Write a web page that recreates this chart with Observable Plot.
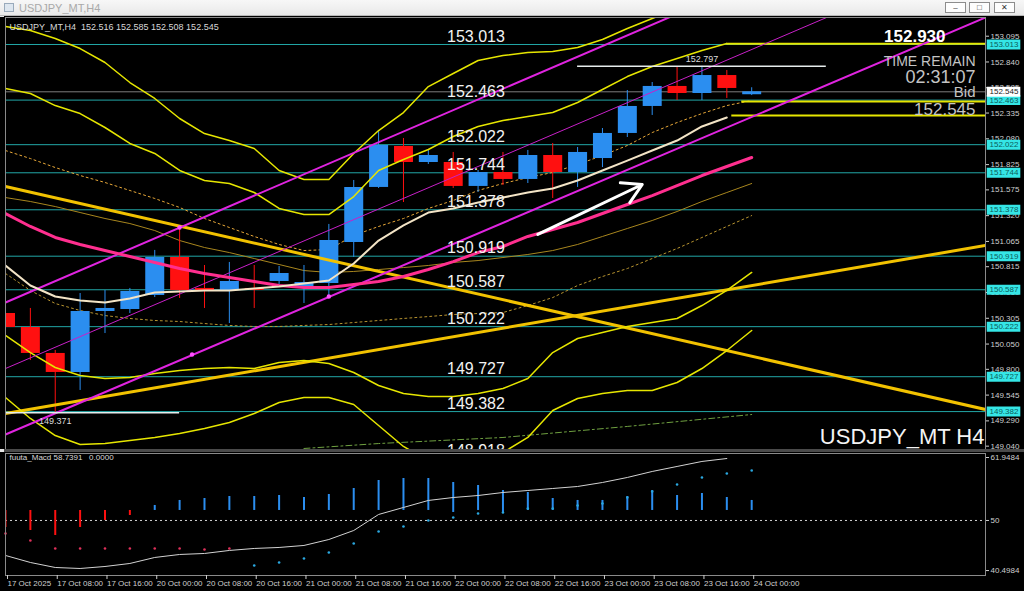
<!DOCTYPE html>
<html><head><meta charset="utf-8">
<script src="https://cdn.jsdelivr.net/npm/d3@7"></script>
<script src="https://cdn.jsdelivr.net/npm/@observablehq/plot@0.6"></script>
<style>
html,body{margin:0;padding:0;background:#000;width:1024px;height:591px;overflow:hidden;font-family:"Liberation Sans",Arial,sans-serif;}
#titlebar{position:absolute;left:0;top:0;width:1024px;height:16px;background:linear-gradient(#f7f7f7,#e9e9e9);border-bottom:1px solid #b8b8b8;box-sizing:border-box;}
#titlebar .icon{position:absolute;left:4px;top:3px;width:10px;height:9px;border:1px solid #9ab;box-sizing:border-box;background:#dde6ef;}
#titlebar .ttl{position:absolute;left:19px;top:2px;font-size:11px;color:#a9a9a9;}
#titlebar .btn{position:absolute;top:2px;width:21px;height:11px;border:1px solid #8c8c8c;background:#fdfdfd;box-sizing:border-box;font-size:8px;line-height:9px;text-align:center;color:#333;}
#leftstrip{position:absolute;left:0;top:16px;width:4px;height:575px;background:#e6e6e6;}
#main{position:absolute;left:0;top:17px;}
#sep{position:absolute;left:4px;top:449px;width:1020px;height:3px;background:#4a4a4a;}
#macd{position:absolute;left:0;top:452px;}
</style></head><body>
<div id="titlebar"><span class="icon"></span><span class="ttl">USDJPY_MT,H4</span>
<div class="btn" style="left:945px">&#8211;</div><div class="btn" style="left:969px">&#9633;</div><div class="btn" style="left:994px">&#10005;</div></div>
<div id="leftstrip"></div>
<div id="main"></div>
<div id="sep"></div>
<div id="macd"></div>
<script>
// ---------------- data ----------------
const xDomain = [0, 39.4];              // visible bar window (bar index)
const priceDomain = [149.007, 153.280];
const macdDomain = [39.56, 62.71];

const timeLabels = ["17 Oct 2025","17 Oct 08:00","17 Oct 16:00","20 Oct 00:00","20 Oct 08:00","20 Oct 16:00",
  "21 Oct 00:00","21 Oct 08:00","21 Oct 16:00","22 Oct 00:00","22 Oct 08:00","22 Oct 16:00",
  "23 Oct 00:00","23 Oct 08:00","23 Oct 16:00","24 Oct 00:00"];

const open  = [150.352,150.214,149.957,149.769,150.372,150.392,150.530,150.906,150.600,150.580,150.600,150.669,150.619,150.649,151.055,151.599,152.004,151.846,151.846,151.609,151.747,151.678,151.915,151.747,151.885,152.133,152.400,152.598,152.528,152.706,152.516];
const high  = [150.431,150.402,149.987,150.550,150.580,150.600,150.976,151.203,150.827,150.857,150.827,150.817,150.827,151.233,151.668,152.162,152.083,151.965,151.945,151.767,151.945,151.965,152.034,151.994,152.182,152.558,152.637,152.786,152.797,152.756,152.585];
const low   = [150.085,149.887,149.371,149.591,150.154,150.352,150.510,150.501,150.402,150.253,150.402,150.639,150.451,150.530,150.906,151.589,151.450,151.826,151.589,151.549,151.618,151.638,151.490,151.599,151.796,152.093,152.311,152.459,152.459,152.479,152.508];
const close = [150.214,149.957,149.769,150.372,150.402,150.570,150.906,150.580,150.570,150.669,150.580,150.748,150.659,151.074,151.599,152.014,151.846,151.915,151.609,151.747,151.678,151.915,151.747,151.945,152.133,152.400,152.598,152.528,152.706,152.578,152.545];

const bandOuterUpper = [153.191,153.151,153.072,152.973,152.835,152.637,152.479,152.281,152.132,152.063,151.984,151.767,151.677,151.677,151.935,152.162,152.340,152.597,152.726,152.855,152.904,152.934,152.944,152.983,153.062,153.171,153.270,153.369];
const bandInnerUpper = [152.578,152.528,152.409,152.330,152.192,152.034,151.935,151.767,151.668,151.638,151.549,151.391,151.331,151.331,151.509,151.767,151.875,151.974,152.103,152.202,152.261,152.301,152.340,152.439,152.568,152.696,152.795,152.874,152.953,153.023];
const bandInnerLower = [150.135,149.966,149.818,149.739,149.709,149.719,149.759,149.788,149.808,149.818,149.808,149.867,149.887,149.858,149.769,149.640,149.561,149.531,149.531,149.561,149.610,149.709,149.966,150.105,150.164,150.224,150.263,150.303,150.431,150.580,150.758];
const bandOuterLower = [149.521,149.314,149.145,149.056,149.066,149.096,149.126,149.165,149.215,149.274,149.363,149.472,149.521,149.521,149.452,149.244,149.037,148.898,148.839,148.878,148.977,149.126,149.393,149.511,149.561,149.591,149.591,149.670,149.808,149.986,150.184];
const maFast   = [150.827,150.629,150.520,150.481,150.461,150.500,150.560,150.570,150.580,150.580,150.599,150.619,150.649,150.679,150.847,151.074,151.223,151.351,151.391,151.450,151.499,151.549,151.588,151.668,151.767,151.865,151.964,152.063,152.202,152.291];
const maPink   = [151.341,151.213,151.104,151.035,150.975,150.916,150.857,150.797,150.748,150.708,150.669,150.629,150.609,150.609,150.639,150.669,150.718,150.787,150.866,150.955,151.015,151.114,151.183,151.252,151.341,151.430,151.519,151.618,151.717,151.806,151.895];
const maDotUpper = [151.964,151.885,151.796,151.717,151.648,151.569,151.490,151.401,151.292,151.203,151.114,151.035,150.975,150.985,151.124,151.213,151.292,151.391,151.470,151.569,151.638,151.697,151.747,151.826,151.915,152.014,152.142,152.241,152.330,152.409,152.459];
const maDotLower = [150.748,150.580,150.451,150.382,150.332,150.303,150.283,150.273,150.253,150.234,150.224,150.224,150.234,150.243,150.263,150.283,150.303,150.322,150.342,150.352,150.362,150.431,150.510,150.629,150.718,150.797,150.896,150.995,151.104,151.213,151.321];
const maOlive  = [151.499,151.460,151.410,151.351,151.292,151.242,151.173,151.074,151.005,150.955,150.896,150.837,150.777,150.758,150.768,150.787,150.807,150.827,150.857,150.876,150.906,150.936,150.975,151.035,151.114,151.193,151.272,151.361,151.460,151.549,151.638];
const maLongIdx = [12, 15, 20, 25, 30];
const maLong    = [149.017,149.066,149.126,149.235,149.353];

const projections = [{from: 29, price: 153.020}, {from: 29.6, price: 152.449}, {from: 29.2, price: 152.311}];

const levels = [153.013, 152.463, 152.022, 151.744, 151.378, 150.919, 150.587, 150.222, 149.727, 149.382];
const hiddenLevel = 148.918;
const levelLabelAt = 17.75;
const bid = 152.545;
const priceTicks = [153.095,152.840,152.585,152.335,152.080,151.825,151.575,151.320,151.065,150.815,150.560,150.305,150.050,149.800,149.545,149.290,149.040];
const highLine = {from: 23, to: 33, price: 152.797, label: "152.797", at: 28};
const lowLine  = {from: 0, to: 7, price: 149.371, label: "149.371", at: 2};

const trendDown = [{i: 0, p: 151.608}, {i: 39.4, p: 149.403}];
const trendUp   = [{i: 0, p: 149.363}, {i: 39.4, p: 151.025}];
const chanUpper = [{i: 0, p: 150.461}, {i: 39.4, p: 154.625}];
const chanLower = [{i: 0, p: 149.155}, {i: 39.4, p: 153.280}];
const chanMid   = [{i: 0, p: 149.808}, {i: 39.4, p: 153.952}];
const pivots = [{i: 7, p: 151.203}, {i: 7.5, p: 149.947}, {i: 13, p: 150.520}];
const arrowAnno = [{i1: 21.4, p1: 151.134, i2: 25.6, p2: 151.628}];

// MACD panel
const macdLo = [51.90,51.90,51.90,51.90,51.90,51.90,51.90,51.90,51.90,51.90,51.90,51.90,51.90,51.90,51.90,51.90,51.90,51.90,51.52,51.90,51.52,51.90,51.90,51.90,51.90,51.90,51.90,51.90,51.90,51.90,51.90];
const macdHi = [48.67,48.10,47.15,48.67,50.00,50.95,52.85,53.80,54.17,54.55,54.55,54.74,54.36,54.93,56.07,57.59,57.97,57.97,57.21,56.64,55.69,55.31,54.17,53.80,53.80,54.55,55.69,54.74,55.12,54.36,53.80];
const macdDots = [47.53,46.20,44.69,44.69,44.69,44.69,44.69,44.69,44.50,44.69,41.46,42.03,42.79,43.93,45.64,47.91,48.86,50.00,50.57,51.33,51.52,52.28,52.28,52.85,53.23,54.36,55.50,56.83,58.16,58.92,59.49];
const macdSignal = [43.36,42.03,41.08,40.89,41.27,41.84,42.98,43.55,43.74,44.31,44.69,44.88,45.26,46.39,48.10,51.14,52.47,53.80,54.36,54.74,55.31,55.69,56.07,56.45,57.21,58.16,59.30,60.25,61.20,61.76];
const macdTicks = [61.9484, 50, 40.4984];

// ---------------- styling ----------------
const BLUE = "#2b8ef0", RED = "#ff1010", TEAL = "#22a7a7", CYANBOX = "#35e6e6", YEL = "#e6e600", GOLD = "#f2c200", MAG = "#e024e0";
const FONT = "'Liberation Sans', Arial, sans-serif";
const pts = arr => arr.map((v, i) => ({i, v}));
const candles = open.map((o, i) => ({i, open: o, high: high[i], low: low[i], close: close[i]}));
const cc = d => d.close >= d.open ? BLUE : RED;
const xMax = xDomain[1];
const corner = (txt, anchor, dx, dy, size, fill, extra = {}) =>
  Plot.text([txt], {frameAnchor: anchor, dx, dy, lineAnchor: "middle",
    textAnchor: anchor.endsWith("right") ? "end" : "start", fill, fontSize: size, ...extra});

const main = Plot.plot({
  width: 1024, height: 432,
  marginLeft: 5, marginRight: 39, marginTop: 0, marginBottom: 0,
  x: {domain: xDomain, axis: null},
  y: {domain: priceDomain},
  color: {type: "identity"},
  style: {background: "#000", color: "#c8c8c8", fontFamily: FONT, overflow: "visible"},
  marks: [
    Plot.ruleY(levels, {y: d => d, stroke: TEAL, strokeWidth: 1}),
    Plot.ruleY([bid], {y: d => d, stroke: "#7c7c7c", strokeWidth: 1}),
    Plot.line(maLongIdx.map((k, j) => ({i: k, v: maLong[j]})), {x: "i", y: "v", stroke: "#6fa040", strokeWidth: 1, strokeDasharray: "6,3,2,3", clip: true}),
    Plot.line(pts(maDotLower), {x: "i", y: "v", stroke: "#b89430", strokeWidth: 1, strokeDasharray: "2,3", clip: true}),
    Plot.line(pts(maOlive), {x: "i", y: "v", stroke: "#a8861e", strokeWidth: 1, clip: true}),
    Plot.line(pts(maDotUpper), {x: "i", y: "v", stroke: "#e8a838", strokeWidth: 1, strokeDasharray: "2,3", clip: true}),
    Plot.ruleX(candles, {x: "i", y1: "low", y2: "high", stroke: cc, strokeWidth: 1, clip: true}),
    Plot.ruleX(candles, {x: "i", y1: "open", y2: "close", stroke: cc, strokeWidth: 19, clip: true}),
    Plot.line(trendDown, {x: "i", y: "p", stroke: GOLD, strokeWidth: 3, clip: true}),
    Plot.line(trendUp, {x: "i", y: "p", stroke: GOLD, strokeWidth: 3, clip: true}),
    Plot.line(pts(bandOuterUpper), {x: "i", y: "v", stroke: YEL, strokeWidth: 1.5, clip: true}),
    Plot.line(pts(bandInnerUpper), {x: "i", y: "v", stroke: YEL, strokeWidth: 1.5, clip: true}),
    Plot.line(pts(bandInnerLower), {x: "i", y: "v", stroke: YEL, strokeWidth: 1.5, clip: true}),
    Plot.line(pts(bandOuterLower), {x: "i", y: "v", stroke: YEL, strokeWidth: 1.5, clip: true}),
    Plot.ruleY(projections, {y: "price", x1: "from", x2: () => xMax, stroke: YEL, strokeWidth: 2, clip: true}),
    Plot.line(chanUpper, {x: "i", y: "p", stroke: MAG, strokeWidth: 2, clip: true}),
    Plot.line(chanLower, {x: "i", y: "p", stroke: MAG, strokeWidth: 2, clip: true}),
    Plot.line(chanMid, {x: "i", y: "p", stroke: "#c820c8", strokeWidth: 1, clip: true}),
    Plot.line(pts(maPink), {x: "i", y: "v", stroke: "#ff2f8f", strokeWidth: 3, clip: true}),
    Plot.line(pts(maFast), {x: "i", y: "v", stroke: "#f3e4c6", strokeWidth: 2, clip: true}),
    Plot.dot(pivots, {x: "i", y: "p", r: 2.2, fill: "#ff50ff"}),
    Plot.ruleY([highLine, lowLine], {y: "price", x1: "from", x2: "to", stroke: "#e6ecec", strokeWidth: 1.5, clip: true}),
    Plot.text([highLine], {x: "at", y: "price", dy: -7, text: "label", fill: "#dcdcdc", fontSize: 9}),
    Plot.text([lowLine], {x: "at", y: "price", dy: 8, text: "label", fill: "#dcdcdc", fontSize: 9}),
    Plot.arrow(arrowAnno, {x1: "i1", y1: "p1", x2: "i2", y2: "p2", stroke: "#ffffff", strokeWidth: 3, headLength: 11}),
    Plot.text(levels.map(p => ({i: levelLabelAt, p})), {x: "i", y: "p", text: d => d.p.toFixed(3), dy: -8, textAnchor: "start", fill: "#f2f2f2", fontSize: 16}),
    Plot.text([{i: levelLabelAt, p: hiddenLevel}], {x: "i", y: "p", text: d => d.p.toFixed(3), dy: -8, textAnchor: "start", fill: "#f2f2f2", fontSize: 16}),
    Plot.frame({stroke: "#8a8a8a"}),
    Plot.axisY({anchor: "right", ticks: priceTicks, tickFormat: d => d.toFixed(3), tickSize: 3, tickPadding: 2, fontSize: 8, color: "#cfcfcf", label: null}),
    Plot.ruleY(levels.map(p => ({p})), {y: "p", x1: () => xMax + 0.07, x2: () => xMax + 1.42, stroke: CYANBOX, strokeWidth: 10}),
    Plot.text(levels, {x: () => xMax, y: d => d, text: d => d.toFixed(3), dx: 4, textAnchor: "start", fill: "#0b5c5c", fontSize: 8}),
    Plot.ruleY([{p: bid}], {y: "p", x1: () => xMax + 0.07, x2: () => xMax + 1.42, stroke: "#ffffff", strokeWidth: 10}),
    Plot.text([bid], {x: () => xMax, y: d => d, text: d => d.toFixed(3), dx: 4, textAnchor: "start", fill: "#222", fontSize: 8}),
    corner("USDJPY_MT,H4  152.516 152.585 152.508 152.545", "top-left", 4, 10, 9, "#d8d8d8"),
    corner("152.930", "top-right", -40, 19, 17, "#ffffff", {fontWeight: "bold"}),
    corner("TIME REMAIN", "top-right", -10, 44, 14, "#c4c4c4"),
    corner("02:31:07", "top-right", -10, 60, 18, "#c4c4c4"),
    corner("Bid", "top-right", -10, 75, 15, "#c4c4c4"),
    corner("152.545", "top-right", -10, 92, 17, "#c4c4c4"),
    corner("USDJPY_MT H4", "bottom-right", -1, -13, 22, "#f4f4f4")
  ]
});
document.getElementById("main").appendChild(main);

const macdBars = macdLo.map((lo, i) => ({i, lo, hi: macdHi[i]}));
const macd = Plot.plot({
  width: 1024, height: 139,
  marginLeft: 5, marginRight: 39, marginTop: 1, marginBottom: 16,
  x: {domain: xDomain},
  y: {domain: macdDomain},
  color: {type: "identity"},
  style: {background: "#000", color: "#c8c8c8", fontFamily: FONT, overflow: "visible"},
  marks: [
    Plot.ruleY([50], {stroke: "#d0d0d0", strokeDasharray: "2,3"}),
    Plot.ruleX(macdBars, {x: "i", y1: "lo", y2: "hi", stroke: d => d.hi >= d.lo ? BLUE : RED, strokeWidth: 2, clip: true}),
    Plot.dot(pts(macdDots), {x: "i", y: "v", r: 1.3, fill: d => d.i < 10 ? "#e0305a" : "#2aa8e0", stroke: null}),
    Plot.line(pts(macdSignal), {x: "i", y: "v", stroke: "#d2d2d2", strokeWidth: 1}),
    Plot.frame({stroke: "#8a8a8a"}),
    Plot.axisY({anchor: "right", ticks: macdTicks, tickFormat: d => String(d), tickSize: 3, tickPadding: 2, fontSize: 8, color: "#cfcfcf", label: null}),
    Plot.axisX({ticks: timeLabels.map((_, k) => 2 * k), tickFormat: d => timeLabels[d / 2], tickSize: 4, tickPadding: 1, textAnchor: "start", dx: 2, fontSize: 8, color: "#cfcfcf", label: null}),
    corner("fuuta_Macd 58.7391   0.0000", "top-left", 4, 4, 8, "#d8d8d8")
  ]
});
document.getElementById("macd").appendChild(macd);
</script>
</body></html>
